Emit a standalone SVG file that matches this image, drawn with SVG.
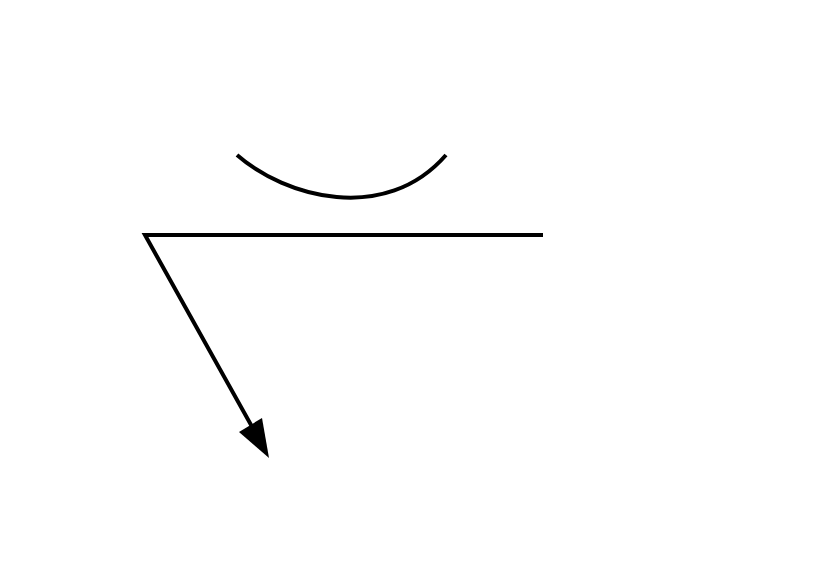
<svg xmlns="http://www.w3.org/2000/svg" width="831" height="585" viewBox="0 0 831 585">
<style>
.ln{fill:none;stroke:#000;stroke-width:4;stroke-linecap:butt}
</style>
<rect width="831" height="585" fill="#fff"/>
<g id="connectors">
<path class="ln" d="M237,155 C285,197 385,225 446,155"/>
<path class="ln" d="M543,235 L145,235 L255,432"/>
<polygon points="269,458 239,432 262,418" fill="#000"/>
</g>
</svg>
